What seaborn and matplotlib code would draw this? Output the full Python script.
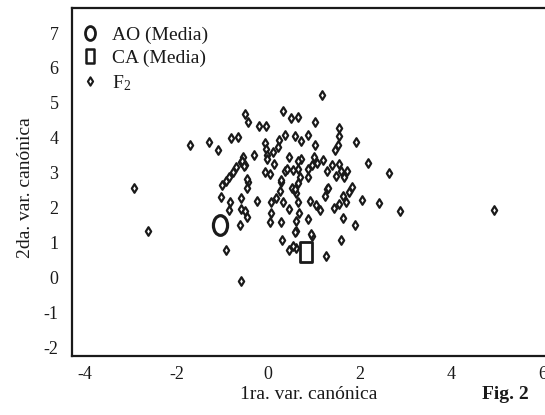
import numpy as np
import pandas as pd
import matplotlib
matplotlib.use("Agg")
import matplotlib.pyplot as plt
from matplotlib.path import Path
from matplotlib.lines import Line2D
import seaborn as sns

# ---------------- data ----------------
f2_x = [1.17, -0.50, -0.43, 0.32, 0.50, 0.66, 1.03, -0.21, -0.05, 1.54, 1.54, 1.52, 1.45, 1.91,
        0.37, 0.58, 0.72, 0.86, 0.24, 0.22, -0.07, -0.05, 1.03, -0.82, -0.65, -1.70, -1.30, -1.09,
        -0.31, -0.03, 0.11, -0.54, -0.50, 0.45, 0.71, 1.01, 1.19, 0.54, 0.66, 0.87, 0.96, 1.06,
        1.40, 1.54, 1.58, 2.18, 2.63, -1.00, -0.92, -0.85, -0.77, -0.70, -0.60, -1.04, -0.83, -0.85,
        -0.60, -0.60, -0.51, -0.46, -0.62, -0.45, -0.46, -0.24, -0.07, 0.05, 0.06, 0.06, 0.05,
        0.16, 0.27, 0.26, 0.32, 0.45, 0.36, 0.51, 0.61, 0.69, 0.66, 0.66, 0.67, 0.60, 0.60, 0.87,
        0.92, 1.05, 1.13, 0.87, 0.95, 0.30, 0.46, 0.60, 1.28, 1.24, 1.43, 1.54, 1.64, 1.70, 1.77,
        1.82, 2.04, 2.41, 2.87, 1.64, 1.89, 1.59, 1.26, -0.93, -0.60, 4.93, -2.93, -2.62, 1.47,
        1.66, 1.29, 1.31, 0.29, 0.58, 0.55, -0.58, -0.52, -0.03, 0.12, -0.46, 0.41, 0.29, 0.66,
        1.72, 0.58, 0.93]
f2_y = [5.24, 4.69, 4.45, 4.77, 4.58, 4.59, 4.45, 4.33, 4.33, 4.28, 4.04, 3.78, 3.64, 3.88,
        4.07, 4.04, 3.92, 4.08, 3.94, 3.73, 3.85, 3.68, 3.80, 3.99, 4.02, 3.80, 3.88, 3.64,
        3.52, 3.50, 3.59, 3.46, 3.21, 3.45, 3.40, 3.46, 3.37, 3.08, 3.11, 3.11, 3.21, 3.27,
        3.21, 3.25, 3.06, 3.27, 2.99, 2.66, 2.77, 2.89, 3.01, 3.16, 3.30, 2.30, 2.15, 1.93,
        2.28, 1.96, 1.91, 1.74, 1.51, 2.73, 2.57, 2.20, 3.01, 2.97, 2.15, 1.86, 1.58,
        2.28, 2.73, 2.49, 2.15, 1.96, 3.06, 2.57, 2.41, 2.89, 2.70, 2.15, 1.86, 1.63, 1.34, 2.89,
        2.20, 2.08, 1.94, 1.67, 1.19, 1.07, 0.78, 0.84, 2.54, 2.32, 1.99, 2.10, 2.32, 2.15, 2.44,
        2.60, 2.22, 2.12, 1.91, 1.70, 1.51, 1.08, 0.62, 0.78, -0.10, 1.94, 2.55, 1.34, 2.92,
        2.87, 3.06, 2.57, 1.58, 2.54, 0.91, 3.35, 3.18, 3.40, 3.26, 2.82, 3.11, 2.78, 3.35,
        3.06, 1.29, 1.24]
ao_mean = (-1.05, 1.49)
ca_mean = (0.82, 0.72)
legend_labels = ["AO (Media)", "CA (Media)", r"$\mathregular{F_2}$"]
x_ticks = [-4, -2, 0, 2, 4, 6]
y_ticks = [-2, -1, 0, 1, 2, 3, 4, 5, 6, 7]

# ---------------- style ----------------
sns.set_theme(style="white")
plt.rcParams["font.family"] = ["Liberation Serif", "DejaVu Serif"]
plt.rcParams["mathtext.fontset"] = "custom"
plt.rcParams["mathtext.rm"] = "Liberation Serif"
plt.rcParams["axes.unicode_minus"] = False
ink = "#1a1a1a"

# markers
ellipse = Path.unit_circle().transformed(matplotlib.transforms.Affine2D().scale(0.72, 1.0))
rect = Path([(-0.58, -1), (0.58, -1), (0.58, 1), (-0.58, 1), (-0.58, -1)],
            [Path.MOVETO, Path.LINETO, Path.LINETO, Path.LINETO, Path.CLOSEPOLY])
diamond = Path([(0, -1), (0.62, 0), (0, 1), (-0.62, 0), (0, -1)],
               [Path.MOVETO, Path.LINETO, Path.LINETO, Path.LINETO, Path.CLOSEPOLY])

fig = plt.figure(figsize=(5.45, 4.15), dpi=100)
fig.patch.set_facecolor("white")
W, H = 545, 415
left_px, top_px, bottom_px = 72.3, 8.3, 356.0
xlim = (-4.277, 6.3)
ylim = (-2.25, 7.71)
ppu = 45.8
width_px = (xlim[1] - xlim[0]) * ppu
ax_h = bottom_px - top_px
ax = fig.add_axes([left_px / W, 1 - bottom_px / H, width_px / W, ax_h / H])

df = pd.DataFrame({"x": f2_x, "y": f2_y})
sns.scatterplot(data=df, x="x", y="y", marker=diamond, s=38, facecolor="white",
                edgecolor=ink, linewidth=1.6, ax=ax, legend=False, zorder=3)
sns.scatterplot(x=[ao_mean[0]], y=[ao_mean[1]], marker=ellipse, s=200, facecolor="white",
                edgecolor=ink, linewidth=2.3, ax=ax, legend=False, zorder=4)
sns.scatterplot(x=[ca_mean[0]], y=[ca_mean[1]], marker=rect, s=210, facecolor="white",
                edgecolor=ink, linewidth=2.0, ax=ax, legend=False, zorder=4)

ax.set_xlim(*xlim)
ax.set_ylim(*ylim)
ax.set_xticks(x_ticks)
ax.set_yticks(y_ticks)
ax.tick_params(axis="both", length=0, labelsize=13, colors=ink)
ax.tick_params(axis="y", pad=10)
ax.tick_params(axis="x", pad=7)
for s in ["left", "top", "bottom"]:
    ax.spines[s].set_visible(True)
    ax.spines[s].set_color(ink)
    ax.spines[s].set_linewidth(1.6)
ax.spines["right"].set_visible(False)
ax.grid(False)
ax.set_facecolor("white")

ax.set_xlabel("1ra. var. canónica", fontsize=14, color=ink)
ax.set_ylabel("2da. var. canónica", fontsize=14, color=ink)
ax.xaxis.set_label_coords((309 - left_px) / width_px, -(394 - bottom_px) / ax_h)
ax.xaxis.label.set_verticalalignment("center")
ax.yaxis.set_label_coords((26 - left_px) / width_px, (bottom_px - 188) / ax_h)
ax.yaxis.label.set_verticalalignment("center")

fig.text(505.7 / W, 1 - 394 / H, "Fig. 2", fontsize=14, fontweight="bold", color=ink,
         ha="center", va="center")

handles = [
    Line2D([], [], linestyle="none", marker=ellipse, markersize=10, markerfacecolor="white",
           markeredgecolor=ink, markeredgewidth=2.0),
    Line2D([], [], linestyle="none", marker=rect, markersize=10.5, markerfacecolor="white",
           markeredgecolor=ink, markeredgewidth=1.8),
    Line2D([], [], linestyle="none", marker=diamond, markersize=6, markerfacecolor="white",
           markeredgecolor=ink, markeredgewidth=1.5),
]
leg = ax.legend(handles, legend_labels, loc="upper left",
                bbox_to_anchor=((80.3 - left_px) / width_px, (bottom_px - 26) / ax_h),
                frameon=False, fontsize=14, handlelength=1.0, handletextpad=0.63,
                labelspacing=0.3, borderpad=0, borderaxespad=0)
for t in leg.get_texts():
    t.set_color(ink)

fig.savefig("out.png", dpi=100, facecolor="white")
